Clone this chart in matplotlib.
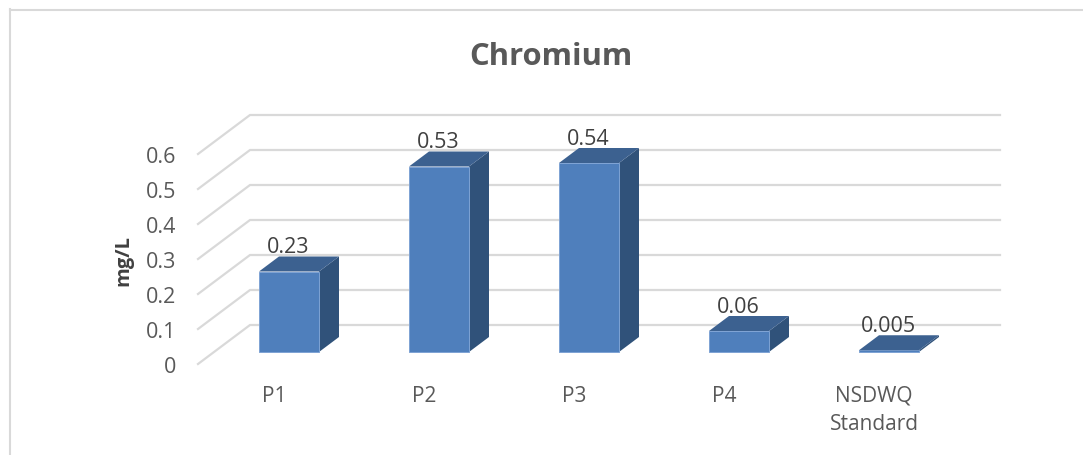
import numpy as np
import matplotlib
matplotlib.use("Agg")
import matplotlib.pyplot as plt
from matplotlib.patches import Polygon
from matplotlib.lines import Line2D

categories = ["P1", "P2", "P3", "P4", "NSDWQ\nStandard"]
values = [0.23, 0.53, 0.54, 0.06, 0.005]
value_labels = ["0.23", "0.53", "0.54", "0.06", "0.005"]
y_ticks = [0, 0.1, 0.2, 0.3, 0.4, 0.5, 0.6]
y_tick_labels = ["0", "0.1", "0.2", "0.3", "0.4", "0.5", "0.6"]

plt.rcParams["font.family"] = ["Open Sans", "DejaVu Sans"]

W, H = 1083, 456
fig = plt.figure(figsize=(W / 100, H / 100), dpi=100, facecolor="white")

# axes box = the floor/wall area in pixels
left, right, top, bottom = 198, 1000, 116, 365
base = 353
ax = fig.add_axes([left / W, 1 - bottom / H, (right - left) / W, (bottom - top) / H])

# 150 px per category, 350 px per mg/L
px_x = 150.0
px_y = 350.0
ax.set_xlim((left - 289) / px_x, (right - 289) / px_x)
ax.set_ylim((base - bottom) / px_y, (base - top) / px_y)
ax.patch.set_visible(False)
for s in ax.spines.values():
    s.set_visible(False)

# 3d offsets
wall_dx = 52 / px_x
wall_dy = 39 / px_y
front_y = -12 / px_y
bar_w = 60 / px_x
depth_x = 20 / px_x
depth_y = 15 / px_y

x0, x1 = ax.get_xlim()
grid_col = "#D9D9D9"
for t in y_ticks:
    ax.plot([x0, x0 + wall_dx, x1], [t + front_y, t + front_y + wall_dy, t + front_y + wall_dy],
            color=grid_col, lw=1.6, zorder=1, clip_on=False, solid_joinstyle="miter")

# bars
idx = np.arange(len(values))
ax.bar(idx, values, width=bar_w, color="#4F7FBC", edgecolor="#7EA3D4", linewidth=0.7, zorder=3)
for i, v in zip(idx, values):
    xl = i - bar_w / 2
    xr = i + bar_w / 2
    ax.add_patch(Polygon([(xr, 0), (xr + depth_x, depth_y), (xr + depth_x, v + depth_y), (xr, v)],
                         closed=True, facecolor="#30527A", edgecolor="none", zorder=2))
    ax.add_patch(Polygon([(xl, v), (xl + depth_x, v + depth_y), (xr + depth_x, v + depth_y), (xr, v)],
                         closed=True, facecolor="#3C6190", edgecolor="none", zorder=4))

# data labels
for i, v, lab in zip(idx, values, value_labels):
    ax.annotate(lab, (i - 0.005, v), xytext=(0, 17.7), textcoords="offset points",
                ha="center", va="center", fontsize=15.5, color="#404040", zorder=5)

# axis labels
ax.set_yticks(np.array(y_ticks) + front_y)
ax.set_yticklabels(y_tick_labels, fontsize=15.5, color="#595959")
ax.tick_params(axis="y", length=0, pad=15.5)
ax.set_xticks(idx - 0.1)
ax.set_xticklabels(categories, fontsize=15, color="#595959", linespacing=1.42)
ax.tick_params(axis="x", length=0, pad=15)

fig.text(123 / W, 1 - 260 / H, "mg/L", rotation=90, ha="center", va="center",
         fontsize=14.5, fontweight="bold", color="#404040")
fig.text(551 / W, 1 - 57 / H, "Chromium", ha="center", va="center",
         fontsize=22.3, fontweight="bold", color="#595959")

# chart frame, only left and top show
fig.add_artist(Line2D([10 / W, 10 / W], [0, 1 - 10 / H], color=grid_col, lw=1.5))
fig.add_artist(Line2D([10 / W, 1], [1 - 10.5 / H, 1 - 10.5 / H], color=grid_col, lw=1.5))

fig.savefig("out.png", dpi=100)
